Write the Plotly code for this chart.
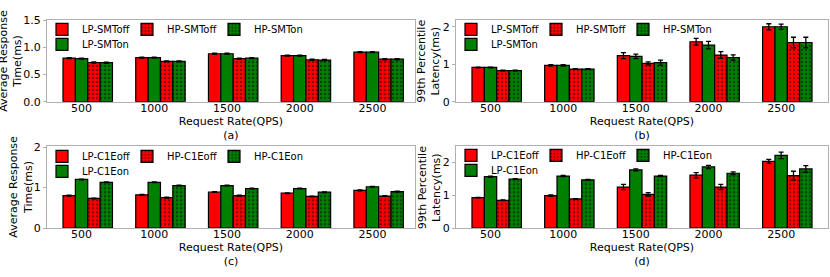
import plotly.graph_objects as go

# ---------------- data ----------------
rates = ["500", "1000", "1500", "2000", "2500"]

# (a) average response time, SMT
a_lp_off = [0.80, 0.81, 0.88, 0.845, 0.91]
a_lp_on = [0.79, 0.81, 0.88, 0.845, 0.91]
a_hp_off = [0.72, 0.74, 0.79, 0.77, 0.78]
a_hp_on = [0.716, 0.74, 0.80, 0.765, 0.78]
a_lp_off_err = [0.01, 0.01, 0.01, 0.01, 0.01]
a_lp_on_err = [0.01, 0.01, 0.01, 0.01, 0.01]
a_hp_off_err = [0.01, 0.01, 0.01, 0.01, 0.01]
a_hp_on_err = [0.01, 0.01, 0.01, 0.01, 0.01]

# (b) 99th percentile latency, SMT
b_lp_off = [0.915, 0.97, 1.23, 1.60, 2.00]
b_lp_on = [0.915, 0.97, 1.21, 1.51, 2.00]
b_hp_off = [0.83, 0.87, 1.02, 1.245, 1.58]
b_hp_on = [0.83, 0.87, 1.04, 1.18, 1.58]
b_lp_off_err = [0.01, 0.02, 0.08, 0.09, 0.08]
b_lp_on_err = [0.01, 0.02, 0.06, 0.10, 0.07]
b_hp_off_err = [0.01, 0.01, 0.04, 0.09, 0.14]
b_hp_on_err = [0.01, 0.01, 0.07, 0.07, 0.14]

# (c) average response time, C1E
c_lp_off = [0.80, 0.82, 0.89, 0.86, 0.93]
c_lp_on = [1.20, 1.13, 1.05, 0.975, 1.02]
c_hp_off = [0.73, 0.75, 0.80, 0.78, 0.79]
c_hp_on = [1.13, 1.05, 0.975, 0.885, 0.90]
c_lp_off_err = [0.01, 0.01, 0.01, 0.01, 0.01]
c_lp_on_err = [0.01, 0.01, 0.01, 0.01, 0.01]
c_hp_off_err = [0.01, 0.01, 0.01, 0.01, 0.01]
c_hp_on_err = [0.01, 0.01, 0.01, 0.01, 0.01]

# (d) 99th percentile latency, C1E
d_lp_off = [0.92, 0.98, 1.24, 1.60, 2.02]
d_lp_on = [1.555, 1.575, 1.76, 1.85, 2.20]
d_hp_off = [0.84, 0.88, 1.02, 1.24, 1.59]
d_hp_on = [1.485, 1.46, 1.575, 1.66, 1.79]
d_lp_off_err = [0.01, 0.02, 0.08, 0.08, 0.06]
d_lp_on_err = [0.02, 0.02, 0.03, 0.05, 0.10]
d_hp_off_err = [0.01, 0.01, 0.05, 0.08, 0.13]
d_hp_on_err = [0.01, 0.01, 0.02, 0.04, 0.10]

smt_names = ["LP-SMToff", "LP-SMTon", "HP-SMToff", "HP-SMTon"]
c1e_names = ["LP-C1Eoff", "LP-C1Eon", "HP-C1Eoff", "HP-C1Eon"]

panels = [
    dict(tag="a", names=smt_names, vals=[a_lp_off, a_lp_on, a_hp_off, a_hp_on],
         errs=[a_lp_off_err, a_lp_on_err, a_hp_off_err, a_hp_on_err],
         ytitle="Average Response<br>Time(ms)"),
    dict(tag="b", names=smt_names, vals=[b_lp_off, b_lp_on, b_hp_off, b_hp_on],
         errs=[b_lp_off_err, b_lp_on_err, b_hp_off_err, b_hp_on_err],
         ytitle="99th Percentile<br>Latency(ms)"),
    dict(tag="c", names=c1e_names, vals=[c_lp_off, c_lp_on, c_hp_off, c_hp_on],
         errs=[c_lp_off_err, c_lp_on_err, c_hp_off_err, c_hp_on_err],
         ytitle="Average Response<br>Time(ms)"),
    dict(tag="d", names=c1e_names, vals=[d_lp_off, d_lp_on, d_hp_off, d_hp_on],
         errs=[d_lp_off_err, d_lp_on_err, d_hp_off_err, d_hp_on_err],
         ytitle="99th Percentile<br>Latency(ms)"),
]

# ---------------- layout / style ----------------
W, H = 830, 277
FONT = "DejaVu Sans"
RED, GREEN = "#ff0000", "#008000"
FRAME = "#b0b0b0"
colors = [RED, GREEN, RED, GREEN]
hatched = [False, False, True, True]
# legend entry widths (px) per trace position: LP-off, LP-on(row 2), HP-off, HP-on
entry_w = [40, 80, 42, 80]

xdom_px = [(47, 415), (456, 828)]
ydom_px = [(20, 101.7), (146.3, 228)]
xdom = [[a / W, b / W] for a, b in xdom_px]
ydom = [[1 - b / H, 1 - a / H] for a, b in ydom_px]
xranges = [[-0.56, 4.5], [-0.56, 4.56]]
yranges = [[0, 1.5], [0, 2.18], [0, 2.02], [0, 2.476]]
ydticks = [0.5, 1, 1, 1]
yfmt = [".1f", "d", "d", "d"]
# y-title block anchor x (px) per panel
ytitle_x = [11, 429, 20.5, 429]
# legend anchor (px): left x, row1 center y, row2 center y
leg_x = [42, 451, 42, 451]
leg_y = [(29.3, 44.3), (29.3, 44.3), (156.3, 171.3), (155.3, 170.3)]

xpos = list(range(len(rates)))
tickpos = [p - 0.085 for p in xpos]

fig = go.Figure()
layout = dict(
    width=W, height=H, margin=dict(l=0, r=0, t=0, b=0, autoexpand=False),
    paper_bgcolor="white", plot_bgcolor="white",
    font=dict(family=FONT, size=11, color="black"),
    barmode="group", bargap=0.32, bargroupgap=0,
    showlegend=True,
)
annotations = []

for pi, p in enumerate(panels):
    col = pi % 2
    row = pi // 2
    ax = "" if pi == 0 else str(pi + 1)
    xa, ya = "x" + ax, "y" + ax
    leg1 = "legend" if pi == 0 else "legend%d" % (2 * pi + 1)
    leg2 = "legend%d" % (2 * pi + 2)
    for k in range(4):
        marker = dict(color=colors[k], line=dict(color="black", width=1.2))
        if hatched[k]:
            marker["pattern"] = dict(shape=".", fgcolor="black", fgopacity=0.45,
                                     size=4, solidity=0.3)
        fig.add_trace(go.Bar(
            x=xpos, y=p["vals"][k], name=p["names"][k],
            marker=marker,
            error_y=dict(type="data", array=p["errs"][k], color="black",
                         thickness=1.3, width=2.5),
            xaxis=xa, yaxis=ya,
            legend=(leg2 if k == 1 else leg1),
            legendwidth=entry_w[k],
            hoverinfo="skip",
        ))
    layout["xaxis" + ax] = dict(
        domain=xdom[col], anchor=ya, range=xranges[col], automargin=False,
        tickmode="array", tickvals=tickpos, ticktext=rates,
        ticks="", showline=True, mirror=True, linecolor=FRAME, linewidth=1,
        showgrid=False, zeroline=False, tickfont=dict(size=11),
        ticklabelstandoff=-4,
        title=dict(text="Request Rate(QPS)<br>(%s)" % p["tag"],
                   font=dict(size=11), standoff=0),
    )
    layout["yaxis" + ax] = dict(
        domain=ydom[row], anchor=xa, range=yranges[pi], automargin=False,
        dtick=ydticks[pi], tick0=0, tickformat=yfmt[pi],
        ticks="outside", ticklen=3, tickcolor=FRAME,
        showline=True, mirror=True, linecolor=FRAME, linewidth=1,
        showgrid=False, zeroline=False, tickfont=dict(size=11),
    )
    annotations.append(dict(
        text=p["ytitle"], textangle=-90, showarrow=False,
        xref="paper", yref="paper",
        x=ytitle_x[pi] / W, y=sum(ydom[row]) / 2,
        xanchor="center", yanchor="middle",
        font=dict(family=FONT, size=11, color="black"),
    ))
    for li, leg in enumerate([leg1, leg2]):
        cy = leg_y[pi][li]
        layout[leg] = dict(
            x=leg_x[pi] / W, y=1 - (cy - 14.5) / H,
            xanchor="left", yanchor="top",
            orientation="h", bgcolor="rgba(0,0,0,0)", borderwidth=0,
            font=dict(family=FONT, size=10, color="black"),
            entrywidthmode="pixels",
            tracegroupgap=0, itemclick=False, itemdoubleclick=False,
        )

layout["annotations"] = annotations
fig.update_layout(**layout)
fig.write_html(
    "out.html",
    config={"displayModeBar": False},
    post_script="document.body.style.margin='0';document.body.style.overflow='hidden';",
)
